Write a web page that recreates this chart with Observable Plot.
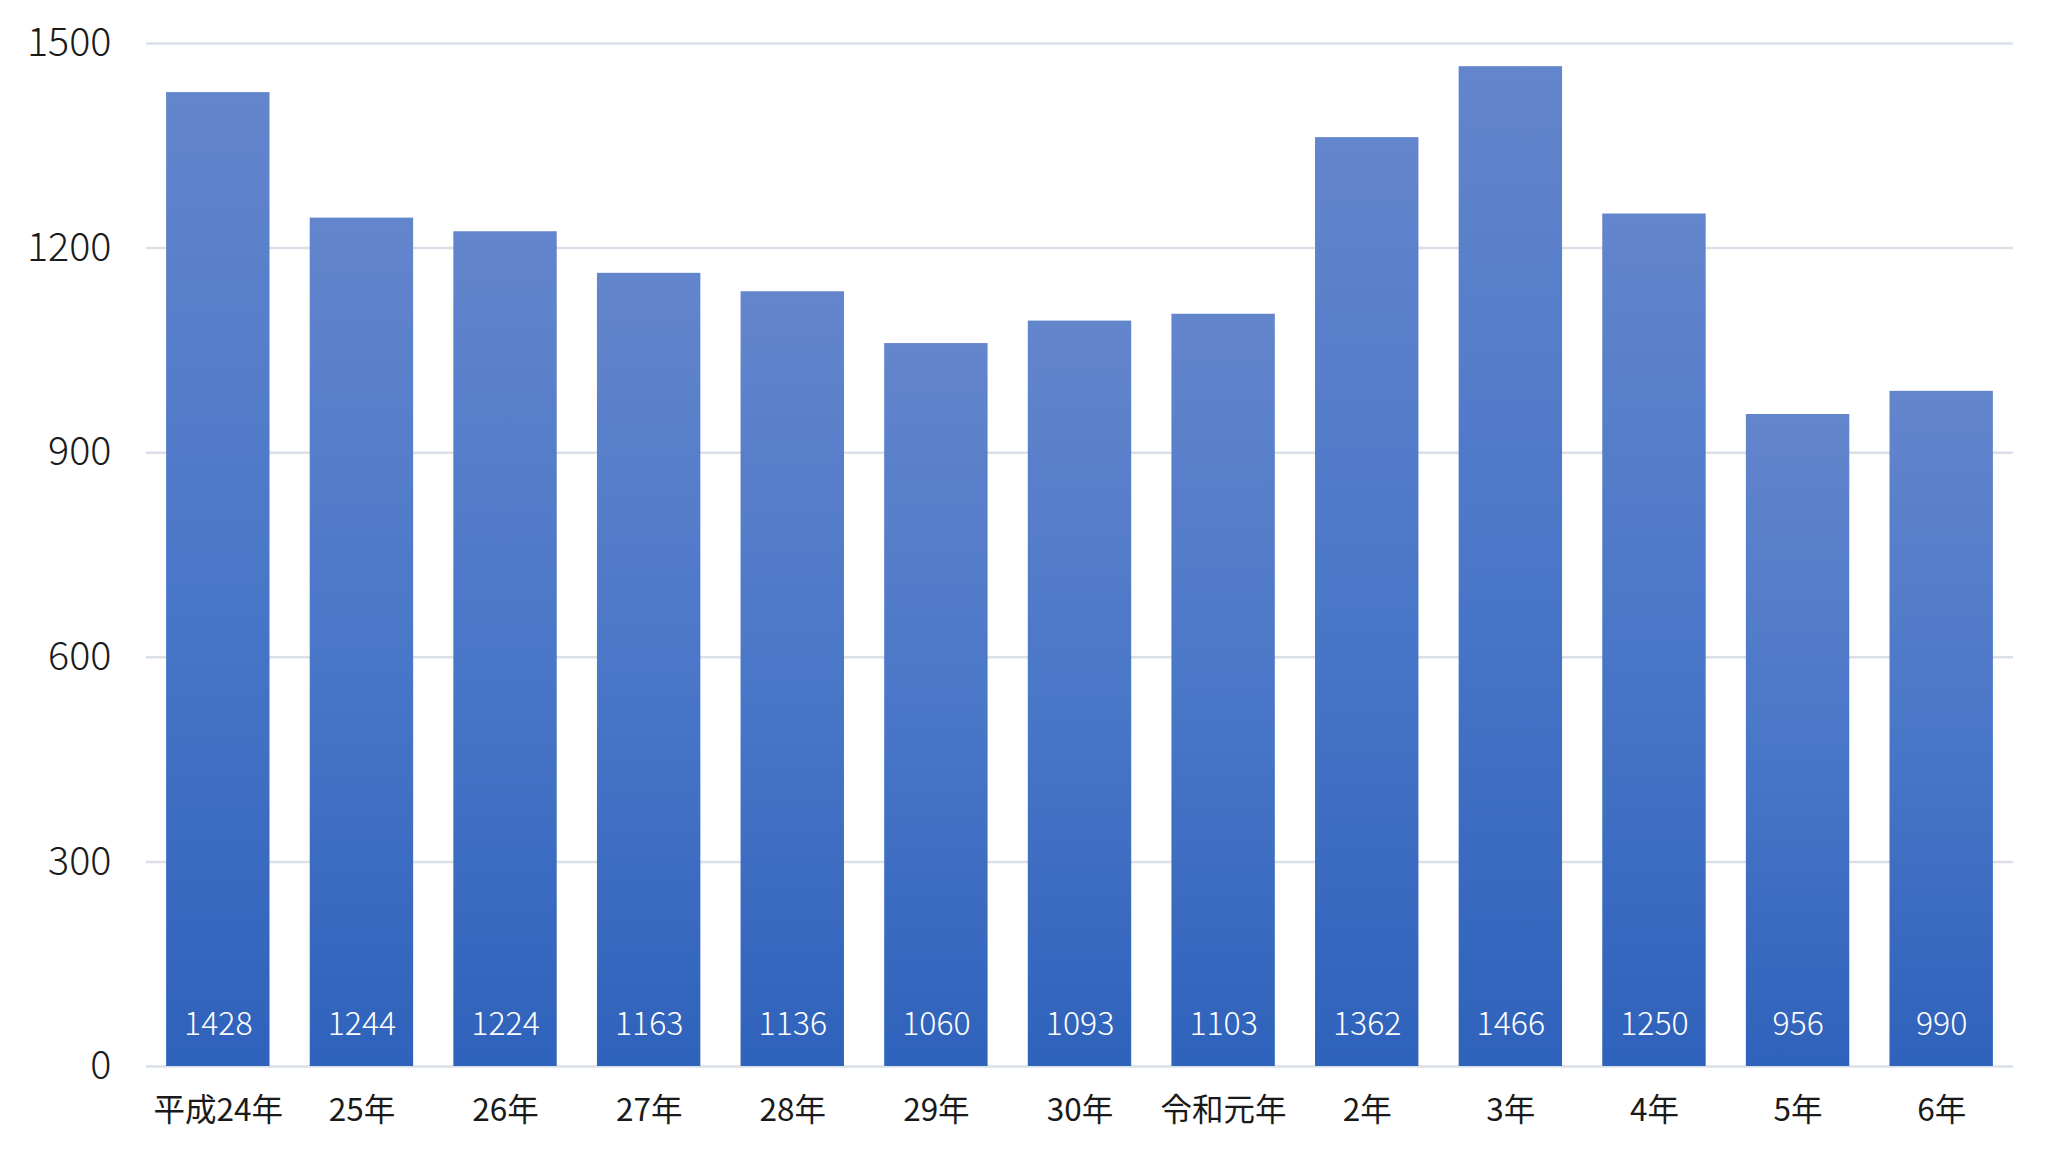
<!DOCTYPE html>
<html>
<head>
<meta charset="utf-8">
<script src="https://cdn.jsdelivr.net/npm/d3@7"></script>
<script src="https://cdn.jsdelivr.net/npm/@observablehq/plot@0.6"></script>
<style>
  html, body { margin: 0; padding: 0; background: #ffffff; }
  #chart { width: 2050px; height: 1164px; }
</style>
</head>
<body>
<div id="chart"></div>
<script>
const categories = ["平成24年","25年","26年","27年","28年","29年","30年","令和元年","2年","3年","4年","5年","6年"];
const values = [1428,1244,1224,1163,1136,1060,1093,1103,1362,1466,1250,956,990];
const yTicks = [0,300,600,900,1200,1500];

const data = categories.map((c, i) => ({category: c, value: values[i]}));
const font = "'Noto Sans CJK JP', 'Noto Sans', sans-serif";

const gradientDefs = () => {
  const defs = d3.create("svg:defs");
  const g = defs.append("linearGradient")
    .attr("id", "barGrad")
    .attr("x1", 0).attr("y1", 0).attr("x2", 0).attr("y2", 1);
  g.append("stop").attr("offset", "0%").attr("stop-color", "#6385cc");
  g.append("stop").attr("offset", "50%").attr("stop-color", "#4a77c8");
  g.append("stop").attr("offset", "100%").attr("stop-color", "#2f62bb");
  return defs.node();
};

const chart = Plot.plot({
  width: 2050,
  height: 1164,
  marginLeft: 146,
  marginRight: 37,
  marginTop: 43,
  marginBottom: 98,
  style: {fontFamily: font, background: "#ffffff", color: "#1a1a1a"},
  x: {domain: categories, paddingInner: 0.28, paddingOuter: 0.14, round: false, label: null},
  y: {domain: [0, 1500], label: null},
  marks: [
    gradientDefs,
    Plot.ruleY(yTicks, {stroke: "#dadfe8", strokeWidth: 2.5}),
    Plot.barY(data, {x: "category", y: "value", fill: "url(#barGrad)"}),
    Plot.text(data, {x: "category", y: () => 0, text: d => String(d.value), dy: -42,
      fill: "#ffffff", fontSize: 32, fontWeight: 300, lineAnchor: "middle", fontFamily: font}),
    Plot.axisY(yTicks, {tickSize: 0, tickPadding: 35, fontSize: 39.5, fontWeight: 300, label: null, fill: "#1a1a1a",
      tickFormat: d => String(d)}),
    Plot.axisX({tickSize: 0, tickPadding: 32, fontSize: 31.5, label: null, fill: "#1a1a1a"})
  ]
});

document.getElementById("chart").appendChild(chart);
</script>
</body>
</html>
